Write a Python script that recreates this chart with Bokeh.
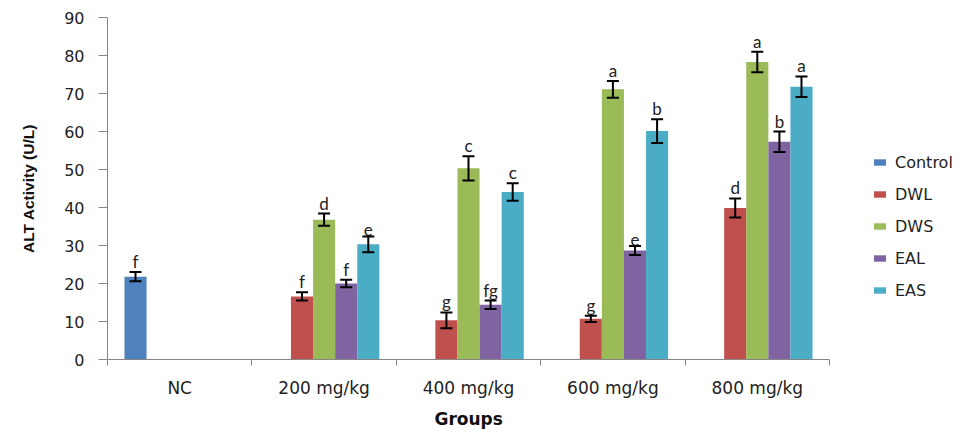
from bokeh.plotting import figure
from bokeh.models import (ColumnDataSource, Range1d, FixedTicker, Whisker, TeeHead,
                          Legend, LegendItem, Title)
from bokeh.core.properties import value
from bokeh.embed import file_html
from bokeh.resources import INLINE

groups = ["NC", "200 mg/kg", "400 mg/kg", "600 mg/kg", "800 mg/kg"]
series = ["Control", "DWL", "DWS", "EAL", "EAS"]
colors = ["#4F81BD", "#C0504D", "#9BBB59", "#8064A2", "#4BACC6"]

control = [21.8, None, None, None, None]
dwl = [None, 16.6, 10.3, 10.7, 39.9]
dws = [None, 36.8, 50.3, 71.1, 78.3]
eal = [None, 20.0, 14.4, 28.7, 57.3]
eas = [None, 30.3, 44.1, 60.1, 71.8]

control_err = [1.2, None, None, None, None]
dwl_err = [None, 1.1, 2.1, 0.8, 2.5]
dws_err = [None, 1.6, 3.2, 2.2, 2.7]
eal_err = [None, 1.0, 1.1, 1.2, 2.7]
eas_err = [None, 2.1, 2.3, 3.1, 2.7]

control_let = ["f", None, None, None, None]
dwl_let = [None, "f", "g", "g", "d"]
dws_let = [None, "d", "c", "a", "a"]
eal_let = [None, "f", "fg", "e", "b"]
eas_let = [None, "e", "c", "b", "a"]

y_ticks = [0, 10, 20, 30, 40, 50, 60, 70, 80, 90]
x_title = "Groups"
y_title = "ALT Activity (U/L)"

values = [control, dwl, dws, eal, eas]
errs = [control_err, dwl_err, dws_err, eal_err, eas_err]
lets = [control_let, dwl_let, dws_let, eal_let, eas_let]

BAR_W = 0.153
TICK_FONT = "DejaVu Sans"

# plotting area: axis spans 107..829 px, frame continues to the right edge for the legend
W, H = 976, 435
AX_L, AX_R = 107, 829
n = len(groups)
x_end = n * (W - AX_L) / (AX_R - AX_L)

p = figure(width=W, height=H, output_backend="svg", toolbar_location=None,
           x_range=Range1d(0, x_end), y_range=Range1d(0, 90),
           min_border_left=AX_L, min_border_right=0, min_border_top=17,
           min_border_bottom=76)
p.outline_line_color = None
p.xgrid.visible = False
p.ygrid.visible = False
p.background_fill_color = "white"

legend_items = []
for k, (name, col) in enumerate(zip(series, colors)):
    offset = (k - 2) * BAR_W
    xs, tops, lo, hi, lab = [], [], [], [], []
    for i, v in enumerate(values[k]):
        if v is None:
            continue
        xs.append(i + 0.5 + offset)
        tops.append(v)
        e = errs[k][i]
        lo.append(v - e)
        hi.append(v + e)
        lab.append(lets[k][i])
    src = ColumnDataSource(dict(x=xs, top=tops, lower=lo, upper=hi, lab=lab))
    r = p.vbar(x="x", top="top", width=BAR_W, bottom=0, source=src,
               fill_color=col, line_color=None)
    legend_items.append(LegendItem(label=name, renderers=[r]))
    w = Whisker(base="x", lower="lower", upper="upper", source=src,
                level="overlay", line_color="black", line_width=2,
                upper_head=TeeHead(size=12, line_width=2, line_color="black"),
                lower_head=TeeHead(size=12, line_width=2, line_color="black"))
    p.add_layout(w)
    p.text(x="x", y="upper", text="lab", source=src, text_align="center",
           text_baseline="bottom", y_offset=0,
           text_font=value("Lato"), text_font_size="17px", text_color="#222222")

# y axis
ya = p.yaxis[0]
ya.ticker = FixedTicker(ticks=y_ticks)
ya.minor_tick_line_color = None
ya.major_tick_in = 0
ya.major_tick_out = 9
ya.axis_line_color = "#868686"
ya.major_tick_line_color = "#868686"
ya.major_label_text_font = TICK_FONT
ya.major_label_text_font_size = "16px"
ya.major_label_text_color = "#222222"
ya.major_label_standoff = 14
ya.axis_label = y_title
ya.axis_label_text_font = "Liberation Sans"
ya.axis_label_text_font_style = "bold"
ya.axis_label_text_font_size = "15.5px"
ya.axis_label_text_color = "#111111"
ya.axis_label_standoff = 24

# x axis
xa = p.xaxis[0]
xa.bounds = (0, n)
xa.ticker = FixedTicker(ticks=[i + 0.5 for i in range(n)],
                        minor_ticks=list(range(n + 1)))
xa.major_label_overrides = {i + 0.5: g for i, g in enumerate(groups)}
xa.major_tick_line_color = None
xa.major_tick_in = 0
xa.major_tick_out = 0
xa.minor_tick_in = 0
xa.minor_tick_out = 6
xa.minor_tick_line_color = "#868686"
xa.axis_line_color = "#868686"
xa.major_label_text_font = TICK_FONT
xa.major_label_text_font_size = "17px"
xa.major_label_text_color = "#222222"
xa.major_label_standoff = 12

# x-axis title centred under the axis (not under the wider frame)
xt = Title(text=x_title, align="left", offset=(AX_R - AX_L) / 2 - 34,
           text_font=TICK_FONT, text_font_style="bold", text_font_size="17px",
           text_color="#111111", standoff=13)
p.add_layout(xt, "below")

legend = Legend(items=legend_items, location=(765, 59), orientation="vertical",
                border_line_color=None, background_fill_alpha=0,
                padding=0, margin=0, spacing=12, label_height=20,
                glyph_width=15, glyph_height=8, label_standoff=8,
                label_text_font=TICK_FONT, label_text_font_size="16px",
                label_text_color="#222222")
p.add_layout(legend)

open("out.html", "w").write(file_html(p, INLINE))
